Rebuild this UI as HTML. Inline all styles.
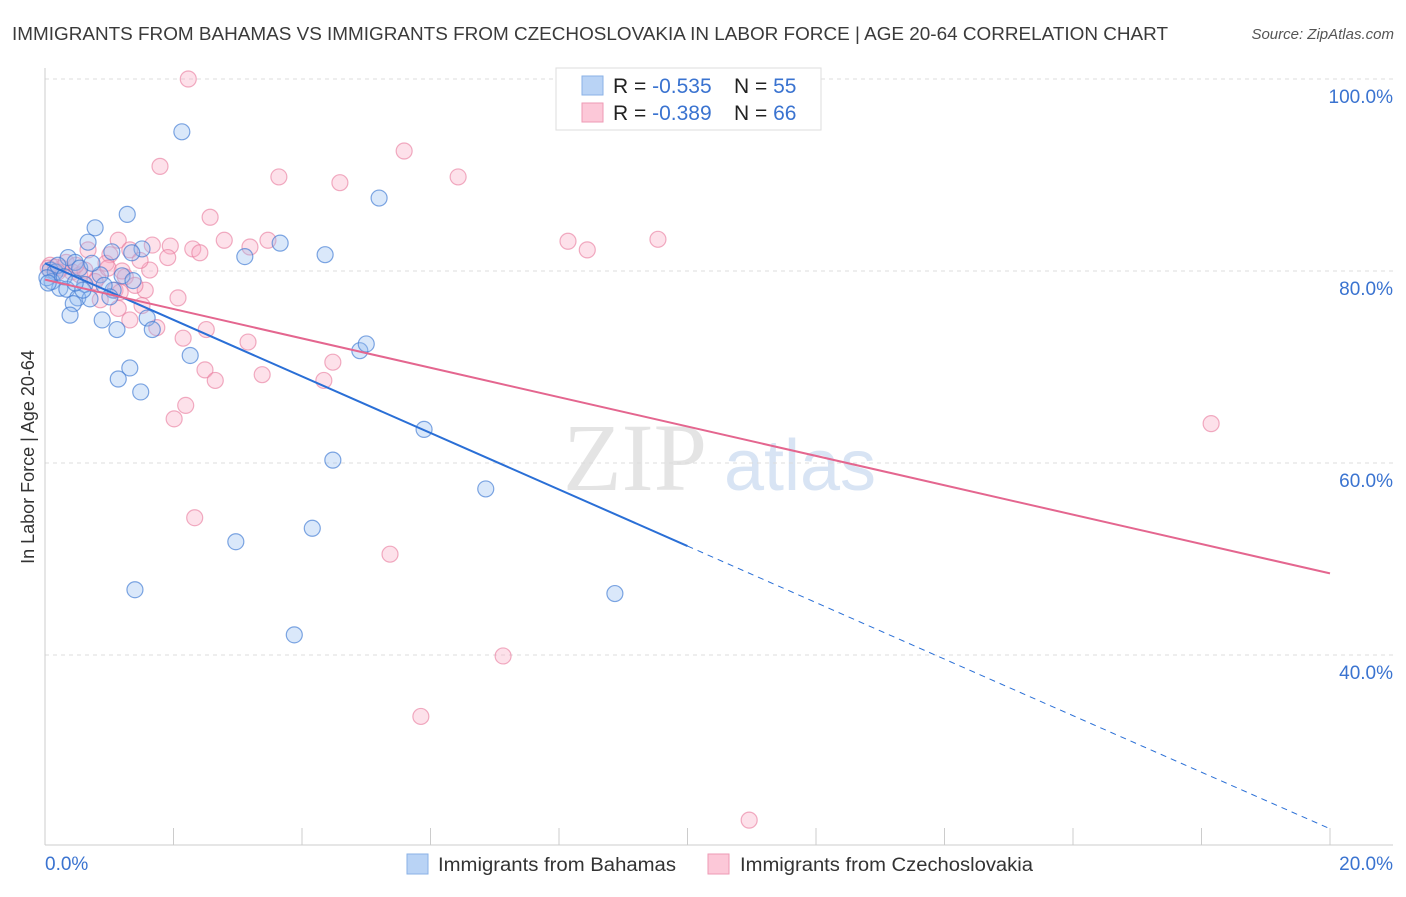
<!DOCTYPE html>
<html><head><meta charset="utf-8"><style>
body{margin:0;background:#fff;font-family:"Liberation Sans",sans-serif;}
</style></head><body>
<svg id="chart" width="1406" height="892" xmlns="http://www.w3.org/2000/svg" font-family="Liberation Sans, sans-serif">
<text x="12" y="40" font-size="18" fill="#3a3a3a" textLength="1156" lengthAdjust="spacingAndGlyphs">IMMIGRANTS FROM BAHAMAS VS IMMIGRANTS FROM CZECHOSLOVAKIA IN LABOR FORCE | AGE 20-64 CORRELATION CHART</text>
<text x="1394" y="39" font-size="15" fill="#555" text-anchor="end" font-style="italic">Source: ZipAtlas.com</text>
<g>
<text x="635" y="490" font-size="96" font-family="Liberation Serif, serif" fill="#e4e4e4" text-anchor="middle">ZIP</text>
<text x="800" y="490" font-size="72" fill="#d8e4f4" text-anchor="middle">atlas</text>
</g>
<g id="grid"></g>
<g id="axes"></g>
<g id="marks"></g>
<g id="lines"></g>
<g>
<rect x="556" y="68" width="265" height="62" fill="#fff" stroke="#ddd"/>
<rect x="582" y="76" width="21" height="19" fill="#b9d3f5" stroke="#8ab2e6"/>
<rect x="582" y="103" width="21" height="19" fill="#fcc8d8" stroke="#ee9ab4"/>
<text x="613" y="93" font-size="21" fill="#222">R = <tspan fill="#3a73d0">-0.535</tspan><tspan x="734">N = </tspan><tspan fill="#3a73d0">55</tspan></text>
<text x="613" y="120" font-size="21" fill="#222">R = <tspan fill="#3a73d0">-0.389</tspan><tspan x="734">N = </tspan><tspan fill="#3a73d0">66</tspan></text>
</g>
<g>
<rect x="407" y="854" width="21" height="20" fill="#b9d3f5" stroke="#8ab2e6"/>
<text x="438" y="871" font-size="19" fill="#333" textLength="238" lengthAdjust="spacingAndGlyphs">Immigrants from Bahamas</text>
<rect x="708" y="854" width="21" height="20" fill="#fcc8d8" stroke="#ee9ab4"/>
<text x="740" y="871" font-size="19" fill="#333" textLength="293" lengthAdjust="spacingAndGlyphs">Immigrants from Czechoslovakia</text>
</g>
<text transform="translate(34,457) rotate(-90)" font-size="18" fill="#333" text-anchor="middle">In Labor Force | Age 20-64</text>
</svg>
<script>
const yTicks=[40,60,80,100];
const yTickLabels=["40.0%","60.0%","80.0%","100.0%"];
const xTickLabels=["0.0%","20.0%"];
const blueX=[2.13,1.28,0.78,5.2,0.67,1.51,3.66,3.11,4.36,0.36,0.47,1.04,1.35,0.08,0.16,0.54,0.86,1.2,1.37,0.11,0.23,0.34,0.62,1.06,0.51,0.70,0.44,0.39,0.89,1.59,1.67,1.12,2.26,4.9,5.0,1.32,1.14,1.49,5.9,4.48,6.86,4.16,2.97,1.4,8.87,3.88,0.03,0.2,0.73,0.92,0.59,0.3,1.01,0.05,0.47];
const blueY=[94.5,85.9,84.5,87.6,83.0,82.3,82.9,81.5,81.7,81.4,80.9,82.0,81.9,80.1,79.9,80.3,79.6,79.5,79.0,78.9,78.2,78.1,78.6,78.0,77.2,77.1,76.6,75.4,74.9,75.1,73.9,73.9,71.2,71.7,72.4,69.9,68.75,67.4,63.5,60.3,57.3,53.2,51.8,46.8,46.4,42.1,79.3,80.6,80.8,78.5,78.0,79.4,77.3,78.75,78.75];
const pinkX=[2.23,1.79,3.64,5.59,4.59,6.43,2.57,8.14,8.44,9.54,18.15,2.79,3.47,3.19,1.95,2.30,2.41,1.91,1.67,1.14,0.67,1.32,1.01,1.63,0.95,0.26,0.08,0.42,0.82,1.25,1.09,1.56,2.07,1.14,1.51,1.32,1.74,2.51,2.15,3.16,2.49,2.65,3.38,4.48,4.34,2.19,2.01,2.33,5.37,7.13,5.85,10.96,0.16,0.33,0.54,0.78,0.98,1.48,0.86,1.17,0.2,0.05,0.62,0.48,1.4,1.2];
const pinkY=[100,90.9,89.8,92.5,89.2,89.8,85.6,83.1,82.2,83.3,64.1,83.2,83.2,82.5,82.6,82.3,81.9,81.4,82.7,83.2,82.2,82.2,81.7,80.1,80.8,80.3,80.6,79.9,79.3,79.4,78.0,78.0,77.2,76.1,76.4,74.9,74.1,73.9,73.0,72.6,69.7,68.6,69.2,70.5,68.6,66.0,64.6,54.3,50.5,39.9,33.6,22.8,80.4,80.9,79.6,78.9,80.3,81.1,77.0,77.8,79.9,80.3,80.1,80.6,78.5,80.0];
const blueTrend=[80.8,21.9];
const blueSolidEnd=10;
const pinkTrend=[79.1,48.5];
const NS="http://www.w3.org/2000/svg";
const X=v=>45+v*64.25;
const Y=v=>79+(100-v)*9.6;
function mk(tag,attrs,parent){const e=document.createElementNS(NS,tag);for(const k in attrs)e.setAttribute(k,attrs[k]);document.getElementById(parent).appendChild(e);return e;}
yTicks.forEach((t,i)=>{
 const g=mk('line',{x1:45,x2:1393,y1:Y(t),y2:Y(t),stroke:'#ddd','stroke-dasharray':'4,4'},'grid');
 
 
 const tx=mk('text',{x:1393,y:Y(t)+24,'font-size':19,fill:'#3a73d0','text-anchor':'end'},'axes');
 tx.textContent=yTickLabels[i];
 
 
});
const ax=mk('line',{x1:45,x2:45,y1:68,y2:845,stroke:'#ccc'},'axes');


const bx=mk('line',{x1:45,x2:1393,y1:845,y2:845,stroke:'#ccc'},'axes');


for(let i=1;i<=10;i++){const t=mk('line',{x1:X(i*2),x2:X(i*2),y1:828,y2:845,stroke:'#ccc'},'axes');}
[[0,'start',45],[1,'end',1393]].forEach(([i,a,x])=>{const t=mk('text',{x:x,y:870,'font-size':19,fill:'#3a73d0','text-anchor':a},'axes');t.textContent=xTickLabels[i];});
pinkX.forEach((v,i)=>{const c=mk('circle',{cx:X(v),cy:Y(pinkY[i]),r:8,fill:'rgba(248,170,195,0.35)',stroke:'rgba(232,120,155,0.6)','stroke-width':1.2},'marks');});
blueX.forEach((v,i)=>{const c=mk('circle',{cx:X(v),cy:Y(blueY[i]),r:8,fill:'rgba(150,190,240,0.35)',stroke:'rgba(60,120,210,0.65)','stroke-width':1.2},'marks');});
const bAt=x=>blueTrend[0]+(blueTrend[1]-blueTrend[0])*x/20;
const l1=mk('line',{x1:X(0),y1:Y(bAt(0)),x2:X(blueSolidEnd),y2:Y(bAt(blueSolidEnd)),stroke:'#2a6fd6','stroke-width':2},'lines');

const l2=mk('line',{x1:X(blueSolidEnd),y1:Y(bAt(blueSolidEnd)),x2:X(20),y2:Y(bAt(20)),stroke:'#2a6fd6','stroke-width':1,'stroke-dasharray':'6,5'},'lines');

const l3=mk('line',{x1:X(0),y1:Y(pinkTrend[0]),x2:X(20),y2:Y(pinkTrend[1]),stroke:'#e4668f','stroke-width':2},'lines');

</script>
</body></html>
